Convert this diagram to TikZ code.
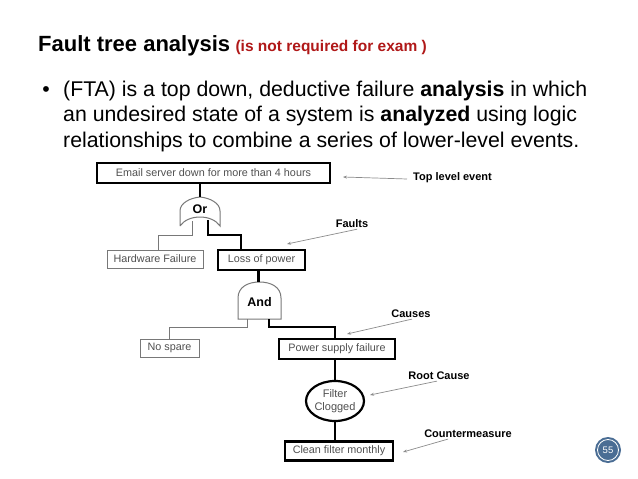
\documentclass[tikz,border=0pt]{standalone}
\usepackage{fontspec}
\setmainfont{Liberation Sans}
\usetikzlibrary{arrows.meta,shapes.geometric,calc}
\definecolor{examred}{RGB}{176,24,24}
\definecolor{boxtext}{RGB}{80,80,80}
\definecolor{thinline}{RGB}{120,120,120}
\definecolor{ptrgray}{RGB}{140,140,140}
\definecolor{pagecirc}{RGB}{74,109,148}
\tikzset{
  thickbox/.style={draw=black,line width=2.4pt,minimum height=20pt,inner sep=0pt,text=boxtext,font=\fontsize{10.8}{12}\selectfont},
  thinbox/.style={draw=thinline,line width=0.9pt,minimum height=18pt,inner sep=0pt,text=boxtext,font=\fontsize{10.8}{12}\selectfont},
  thickcon/.style={draw=black,line width=2.4pt},
  thincon/.style={draw=thinline,line width=0.9pt},
  gateline/.style={draw=thinline,line width=1pt},
  gatetext/.style={font=\bfseries\fontsize{12.5}{14}\selectfont,text=black,inner sep=0pt},
  lbl/.style={font=\bfseries\fontsize{11}{13}\selectfont,text=black,inner sep=0pt},
  ptr/.style={draw=ptrgray,line width=0.7pt,-{Stealth[length=4pt,width=3pt]}},
}
\begin{document}
\begin{tikzpicture}[x=1pt,y=-1pt]
\useasboundingbox[fill=white] (0,0) rectangle (638,479);
% title
\node[anchor=base west,inner sep=0pt,font=\bfseries\fontsize{22}{24}\selectfont] (title) at (38,52) {Fault tree analysis};
\node[anchor=base west,inner sep=0pt,font=\bfseries\fontsize{15.5}{17}\selectfont,text=examred] (exam) at ([xshift=5pt]title.base east) {(is not required for exam )};
% bullet
\node[anchor=base,inner sep=0pt,font=\fontsize{21.3}{25.5}\selectfont] (bul) at (46,96) {•};
\node[anchor=base west,inner sep=0pt,align=left,font=\fontsize{21.3}{25.5}\selectfont] (body) at (63,147) {(FTA) is a top down, deductive failure \textbf{analysis} in which\\an undesired state of a system is \textbf{analyzed} using logic\\relationships to combine a series of lower-level events.};
% boxes
\node[thickbox,minimum width=233pt] (top) at (213.5,173) {Email server down for more than 4 hours};
\node[thinbox,minimum width=96pt] (hw) at (155,259) {Hardware Failure};
\node[thickbox,minimum width=87pt] (lop) at (261.5,260) {Loss of power};
\node[thinbox,minimum width=59pt] (ns) at (169.5,348) {No spare};
\node[thickbox,minimum width=116pt] (psf) at (337,349) {Power supply failure};
\node[draw=black,line width=2.2pt,ellipse,minimum width=57pt,minimum height=40pt,inner sep=0pt,align=center,text=boxtext,font=\fontsize{11}{13}\selectfont] (circ) at (335,401) {Filter\\Clogged};
\node[thickbox,minimum width=108pt,minimum height=19pt] (clean) at (339,451) {Clean filter monthly};
% Or gate
\path[gateline] (180,226) -- (180,211) .. controls (180,203) and (190,198) .. (200,197) .. controls (210,198) and (220,203) .. (220,211) -- (220,226) .. controls (212,214) and (188,214) .. (180,226);
\node[gatetext] (or) at (200,209) {Or};
\coordinate (ortop) at (200,197);
\coordinate (orL) at (192,221);
\coordinate (orR) at (208,220);
% And gate
\path[gateline] (238,319) -- (238,298) .. controls (238,287) and (248,282) .. (259.5,282) .. controls (271,282) and (281,287) .. (281,298) -- (281,319) -- cycle;
\node[gatetext] (and) at (259.5,302) {And};
\coordinate (andtop) at (258.5,282);
\coordinate (andL) at (247,319);
\coordinate (andR) at (269,319);
% connectors
\draw[thickcon] (top.south -| ortop) -- (ortop);
\draw[thincon] (orL) -- (192,235) -| (hw.north -| 158,0);
\draw[thickcon] (orR) -- (208,235) -| ([xshift=24pt]lop.north west);
\draw[thickcon] (lop.south -| andtop) -- (andtop);
\draw[thincon] (andL) -- (247,327) -| (ns.north);
\draw[thickcon] (andR) -- (269,327) -| (psf.north -| circ.north);
\draw[thickcon] (psf.south -| circ.north) -- (circ.north);
\draw[thickcon] (circ.south) -- (circ.south |- clean.north);
% labels
\node[lbl,anchor=west] (tle) at (413,178) {Top level event};
\node[lbl] (faults) at (352,224) {Faults};
\node[lbl] (causes) at (411,314) {Causes};
\node[lbl] (root) at (439,376) {Root Cause};
\node[lbl] (cm) at (468,434) {Countermeasure};
\coordinate (tipTop) at (343,177);
\coordinate (tipFaults) at (287,244);
\coordinate (tipCauses) at (347,334);
\coordinate (tipRoot) at (370,395);
\coordinate (tipCm) at (403,452);
\draw[ptr] ([xshift=-6pt,yshift=-1pt]tle.west) -- (tipTop);
\draw[ptr] ([xshift=5pt,yshift=-1pt]faults.south) -- (tipFaults);
\draw[ptr] ([xshift=1pt,yshift=-1pt]causes.south) -- (tipCauses);
\draw[ptr] ([xshift=-2pt,yshift=-1pt]root.south) -- (tipRoot);
\draw[ptr] ([xshift=-20pt,yshift=-1pt]cm.south) -- (tipCm);
% page number
\node[circle,fill=pagecirc,minimum size=26pt,inner sep=0pt] (pg) at (608,450) {};
\draw[white,line width=0.8pt] (pg.center) circle (10.5pt);
\node[text=white,font=\fontsize{9.5}{10}\selectfont,inner sep=0pt] (pgnum) at (pg.center) {55};
\end{tikzpicture}
\end{document}
